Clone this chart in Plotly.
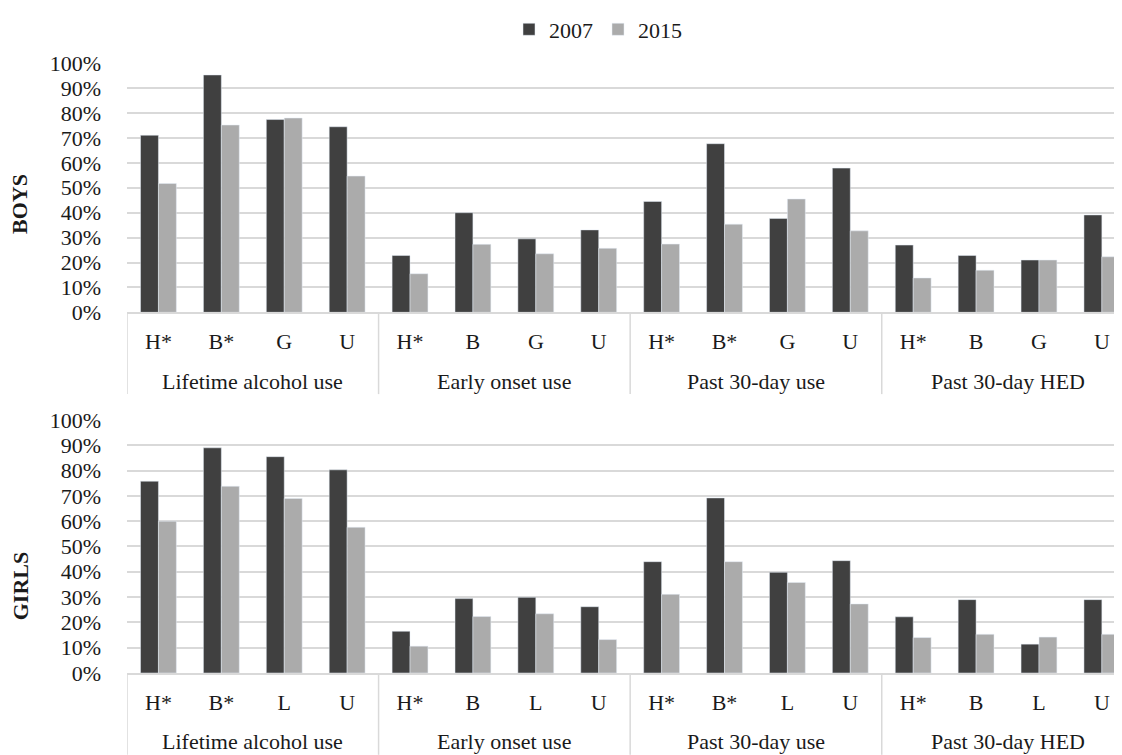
import plotly.graph_objects as go

# ---- data ----
measures = ["Lifetime alcohol use", "Early onset use", "Past 30-day use", "Past 30-day HED"]
boys_countries = ["H*", "B*", "G", "U", "H*", "B", "G", "U", "H*", "B*", "G", "U", "H*", "B", "G", "U"]
girls_countries = ["H*", "B*", "L", "U", "H*", "B", "L", "U", "H*", "B*", "L", "U", "H*", "B", "L", "U"]

boys_2007 = [0.711, 0.953, 0.774, 0.745, 0.228, 0.400, 0.295, 0.331, 0.445, 0.677, 0.377, 0.579, 0.270, 0.228, 0.210, 0.391]
boys_2015 = [0.517, 0.752, 0.780, 0.547, 0.155, 0.273, 0.235, 0.257, 0.274, 0.354, 0.455, 0.327, 0.138, 0.169, 0.210, 0.223]
girls_2007 = [0.758, 0.890, 0.855, 0.803, 0.165, 0.294, 0.299, 0.262, 0.440, 0.692, 0.398, 0.444, 0.222, 0.290, 0.114, 0.290]
girls_2015 = [0.600, 0.738, 0.690, 0.576, 0.106, 0.223, 0.234, 0.132, 0.311, 0.440, 0.358, 0.273, 0.140, 0.153, 0.142, 0.153]

series_names = ["2007", "2015"]
panel_titles = ["BOYS", "GIRLS"]

# ---- styles ----
C_DARK = "#404040"
C_LIGHT = "#ababab"
GRID = "#d9d9d9"
TXT = "#1a1a1a"
FONT = "Liberation Serif"
FS = 22

n = len(boys_countries)
per_group = n // len(measures)
xpos = list(range(n))

fig = go.Figure()
fig.add_trace(go.Bar(x=xpos, y=boys_2007, name=series_names[0], marker_color=C_DARK,
                     xaxis="x", yaxis="y", legendgroup="a"))
fig.add_trace(go.Bar(x=xpos, y=boys_2015, name=series_names[1], marker_color=C_LIGHT,
                     xaxis="x", yaxis="y", legendgroup="b"))
fig.add_trace(go.Bar(x=xpos, y=girls_2007, name=series_names[0], marker_color=C_DARK,
                     xaxis="x2", yaxis="y2", legendgroup="a", showlegend=False))
fig.add_trace(go.Bar(x=xpos, y=girls_2015, name=series_names[1], marker_color=C_LIGHT,
                     xaxis="x2", yaxis="y2", legendgroup="b", showlegend=False))

# page body has an 8px margin: work in screenshot pixels and shift
OFF = 8
W, H = 1122 - OFF, 755 - OFF
ML, MR, MT = 127 - OFF, 0, 54 - OFF
PLOT_BOTTOM = 673 - OFF
MB = H - PLOT_BOTTOM
ph = H - MT - MB
pw = W - ML - MR


def py(pix):
    """screenshot pixel y -> paper y"""
    return (PLOT_BOTTOM - (pix - OFF)) / ph


def px(pix):
    """screenshot pixel x -> paper x"""
    return ((pix - OFF) - ML) / pw


xaxis_common = dict(
    range=[-0.5, 15.32], autorange=False,
    tickmode="array", tickvals=xpos,
    showline=True, linecolor=GRID, linewidth=1.5,
    showgrid=False, zeroline=False,
    tickfont=dict(family=FONT, size=FS, color=TXT),
    ticks="", ticklabelstandoff=9,
    fixedrange=True,
)
yaxis_common = dict(
    range=[0, 1.001], autorange=False,
    tickformat=".0%", dtick=0.1, tick0=0,
    showgrid=True, gridcolor=GRID, gridwidth=1.5,
    zeroline=False, showline=False,
    tickfont=dict(family=FONT, size=FS, color=TXT),
    ticklabelstandoff=25,
    fixedrange=True,
)

fig.update_layout(
    width=W, height=H,
    margin=dict(l=ML, r=MR, t=MT, b=MB),
    paper_bgcolor="white", plot_bgcolor="white",
    barmode="group", bargap=0.43, bargroupgap=0,
    font=dict(family=FONT, size=FS, color=TXT),
    xaxis=dict(anchor="y", domain=[0, 1], ticktext=boys_countries, **xaxis_common),
    xaxis2=dict(anchor="y2", domain=[0, 1], ticktext=girls_countries, **xaxis_common),
    yaxis=dict(anchor="x", domain=[py(307), 1.0], **yaxis_common),
    yaxis2=dict(anchor="x2", domain=[0, py(416)], **yaxis_common),
    legend=dict(orientation="h", x=px(598), xanchor="center", y=py(20), yanchor="middle",
                font=dict(family=FONT, size=FS, color=TXT), bgcolor="rgba(0,0,0,0)",
                itemwidth=30, tracegroupgap=0),
    showlegend=True,
)

# outer category labels and dividers for both panels
panels = [("x", 307, 377, 390), ("x2", 673, 743, 756)]
for xref, axis_pix, label_pix, bottom_pix in panels:
    for g, m in enumerate(measures):
        center = g * per_group + (per_group - 1) / 2
        fig.add_annotation(text=m, showarrow=False, xref=xref, yref="paper",
                           x=center, y=py(label_pix), xanchor="center", yanchor="middle",
                           font=dict(family=FONT, size=FS, color=TXT))
        left = g * per_group - 0.5
        fig.add_shape(type="line", xref=xref, yref="paper", x0=left, x1=left,
                      y0=py(axis_pix), y1=py(bottom_pix),
                      line=dict(color=GRID, width=1.5))

fig.add_annotation(text="<b>%s</b>" % panel_titles[0], textangle=-90, showarrow=False,
                   xref="paper", yref="paper", x=px(20), y=py(197), xanchor="center", yanchor="middle",
                   font=dict(family=FONT, size=FS, color=TXT))
fig.add_annotation(text="<b>%s</b>" % panel_titles[1], textangle=-90, showarrow=False,
                   xref="paper", yref="paper", x=px(20), y=py(585), xanchor="center", yanchor="middle",
                   font=dict(family=FONT, size=FS, color=TXT))

fig.write_html("out.html")
